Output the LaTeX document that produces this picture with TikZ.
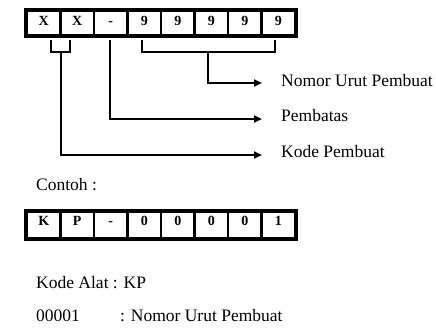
\documentclass[tikz,border=0pt]{standalone}
\usepackage{fontspec}
\setmainfont{Liberation Serif}
\usetikzlibrary{arrows.meta,calc}
\begin{document}
\begin{tikzpicture}[x=1pt,y=-1pt,
  cell/.style={draw=black,line width=2.4pt,minimum width=33.5pt,minimum height=24pt,
    inner sep=0pt,text height=10pt,text depth=6pt,font=\fontsize{14}{14}\selectfont\bfseries},
  frame/.style={draw=black,line width=2.8pt},
  link/.style={draw=black,line width=2pt},
  pointer/.style={link,-{Triangle[length=8pt,width=7pt]}},
  label/.style={anchor=west,inner sep=0pt,font=\fontsize{17.5}{17.5}\selectfont}]
\useasboundingbox (0,0) rectangle (436,327);
% code template
\foreach \t [count=\i] in {X,X,-,9,9,9,9,9}
  \node[cell] (t\i) at ({27+33.5*(\i-0.5)},23) {\t};
\draw[frame] (t1.north west) rectangle (t8.south east);
% example code
\foreach \t [count=\i] in {K,P,-,0,0,0,0,1}
  \node[cell,minimum height=26pt,text depth=9pt] (e\i) at ({27+33.5*(\i-0.5)},225) {\t};
\draw[frame] (e1.north west) rectangle (e8.south east);
% bracket and pointer for the maker code
\coordinate (ka) at (51,40);
\coordinate (kb) at (51,52);
\coordinate (kc) at (70,52);
\coordinate (kd) at (70,40);
\coordinate (km) at (60.5,52);
\coordinate (kt) at (60.5,155);
\draw[link] (ka) -- (kb) -- (kc) -- (kd);
% bracket and pointer for the serial number
\coordinate (na) at (142,40);
\coordinate (nb) at (142,52);
\coordinate (nc) at (275,52);
\coordinate (nd) at (275,40);
\coordinate (nm) at (208,52);
\coordinate (nt) at (208,83);
\draw[link] (na) -- (nb) -- (nc) -- (nd);
% separator
\coordinate (sa) at (110,40);
\coordinate (st) at (110,119);
% labels
\node[label] (lnomor) at (281,81) {Nomor Urut Pembuat};
\node[label] (lbatas) at (281,116) {Pembatas};
\node[label] (lkode) at (281,152) {Kode Pembuat};
\draw[pointer] (nm) -- (nt) -- (nt -| 262,0);
\draw[pointer] (sa) -- (st) -- (st -| 262,0);
\draw[pointer] (km) -- (kt) -- (kt -| 262,0);
\node[label] (contoh) at (36,185) {Contoh :};
\node[label] (alat) at (36,283) {Kode Alat : KP};
\node[label] (nomor) at (36,316) {00001};
\node[label] (urut) at (120,316) {: Nomor Urut Pembuat};
\end{tikzpicture}
\end{document}
